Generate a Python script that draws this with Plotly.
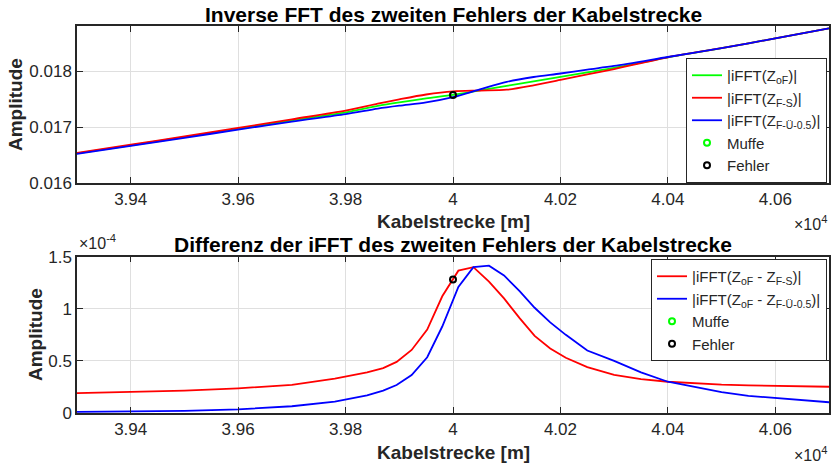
import plotly.graph_objects as go

# ---------------- data ----------------
# Top plot: |iFFT| amplitudes along the cable (m)
x_top = [39300, 39400, 39500, 39600, 39700, 39800, 39860, 39900, 39950, 40000,
         40050, 40100, 40150, 40200, 40250, 40300, 40400, 40500, 40600, 40700]
amp_oF = [0.01653, 0.016675, 0.01682, 0.01697, 0.01712, 0.017264, 0.01738, 0.017443, 0.017514, 0.017577,
          0.017657, 0.017738, 0.017818, 0.017898, 0.01798, 0.018059, 0.01825, 0.018414, 0.018589, 0.018768]
amp_FS = [0.01654, 0.016685, 0.016832, 0.016985, 0.01714, 0.017294, 0.01742, 0.017497, 0.017584, 0.01764,
          0.017655, 0.01767, 0.017748, 0.017844, 0.017944, 0.01804, 0.01825, 0.018414, 0.018589, 0.018768]
amp_FU = [0.01652, 0.016665, 0.016808, 0.016955, 0.0171, 0.017234, 0.017332, 0.017384, 0.017442, 0.017536,
          0.017675, 0.01781, 0.017897, 0.01796, 0.01803, 0.018095, 0.018255, 0.018414, 0.018589, 0.018768]

# Bottom plot: |iFFT| of differences (values in units of 1e-4)
x_diff = [39300, 39400, 39500, 39600, 39700, 39780, 39840, 39870, 39895, 39923, 39952, 39980,
          40010, 40038, 40067, 40095, 40124, 40152, 40181, 40210, 40250, 40300, 40350, 40400,
          40450, 40500, 40550, 40600, 40650, 40700]
diff_FS_e4 = [0.19, 0.20, 0.215, 0.237, 0.27, 0.33, 0.39, 0.43, 0.49, 0.605, 0.80, 1.12,
              1.366, 1.40, 1.26, 1.10, 0.91, 0.74, 0.62, 0.53, 0.44, 0.365, 0.325, 0.30,
              0.283, 0.272, 0.265, 0.26, 0.255, 0.252]
diff_FU_e4 = [0.01, 0.012, 0.02, 0.035, 0.065, 0.11, 0.17, 0.215, 0.269, 0.365, 0.535, 0.83,
              1.21, 1.40, 1.414, 1.32, 1.17, 1.01, 0.87, 0.75, 0.60, 0.50, 0.39, 0.30,
              0.25, 0.20, 0.165, 0.142, 0.12, 0.103]

fehler_x = [40000]
fehler_top = [0.017577]
fehler_bot_e4 = [1.28]

x_ticks = [39400, 39600, 39800, 40000, 40200, 40400, 40600]
x_ticktext = ["3.94", "3.96", "3.98", "4", "4.02", "4.04", "4.06"]
y_top_ticks = [0.016, 0.017, 0.018]
y_top_text = ["0.016", "0.017", "0.018"]
y_bot_ticks = [0, 0.5e-4, 1e-4, 1.5e-4]
y_bot_text = ["0", "0.5", "1", "1.5"]

diff_FS = [v * 1e-4 for v in diff_FS_e4]
diff_FU = [v * 1e-4 for v in diff_FU_e4]
fehler_bot = [v * 1e-4 for v in fehler_bot_e4]

# ---------------- figure ----------------
W, H = 832, 467
def fx(px):
    return px / W
def fy(py):
    return 1 - py / H

FONT = "Liberation Sans, Arial, sans-serif"
AX = "#262626"
GRID = "#dfdfdf"

fig = go.Figure()
lw = 1.8
sp = dict(shape="spline", smoothing=0.8)
fig.add_trace(go.Scatter(x=x_top, y=amp_oF, mode="lines", line=dict(color="#00ff00", width=lw, **sp),
                         name="|iFFT(Z<sub>oF</sub>)|", xaxis="x", yaxis="y", legend="legend"))
fig.add_trace(go.Scatter(x=x_top, y=amp_FS, mode="lines", line=dict(color="#ff0000", width=lw, **sp),
                         name="|iFFT(Z<sub>F-S</sub>)|", xaxis="x", yaxis="y", legend="legend"))
fig.add_trace(go.Scatter(x=x_top, y=amp_FU, mode="lines", line=dict(color="#0000ff", width=lw, **sp),
                         name="|iFFT(Z<sub>F-Ü-0.5</sub>)|", xaxis="x", yaxis="y", legend="legend"))
fig.add_trace(go.Scatter(x=[None], y=[None], mode="markers",
                         marker=dict(symbol="circle-open", color="#00ff00", size=6, line=dict(width=2)),
                         name="Muffe", xaxis="x", yaxis="y", legend="legend"))
fig.add_trace(go.Scatter(x=fehler_x, y=fehler_top, mode="markers",
                         marker=dict(symbol="circle-open", color="black", size=6, line=dict(width=2)),
                         name="Fehler", xaxis="x", yaxis="y", legend="legend"))

fig.add_trace(go.Scatter(x=x_diff, y=diff_FS, mode="lines", line=dict(color="#ff0000", width=lw),
                         name="|iFFT(Z<sub>oF</sub> - Z<sub>F-S</sub>)|", xaxis="x2", yaxis="y2", legend="legend2"))
fig.add_trace(go.Scatter(x=x_diff, y=diff_FU, mode="lines", line=dict(color="#0000ff", width=lw),
                         name="|iFFT(Z<sub>oF</sub> - Z<sub>F-Ü-0.5</sub>)|", xaxis="x2", yaxis="y2", legend="legend2"))
fig.add_trace(go.Scatter(x=[None], y=[None], mode="markers",
                         marker=dict(symbol="circle-open", color="#00ff00", size=6, line=dict(width=2)),
                         name="Muffe", xaxis="x2", yaxis="y2", legend="legend2"))
fig.add_trace(go.Scatter(x=fehler_x, y=fehler_bot, mode="markers",
                         marker=dict(symbol="circle-open", color="black", size=6, line=dict(width=2)),
                         name="Fehler", xaxis="x2", yaxis="y2", legend="legend2"))

xdom = [fx(77), fx(829)]
top_dom = [fy(183), fy(26)]
bot_dom = [fy(413), fy(256.7)]

axis_common = dict(showline=True, linecolor=AX, linewidth=1.5, mirror="ticks", ticks="inside",
                   ticklen=6, tickwidth=1.2, tickcolor=AX, showgrid=True, gridcolor=GRID, gridwidth=1,
                   zeroline=False, automargin=False, tickfont=dict(family=FONT, size=17, color=AX))

fig.update_layout(
    width=W, height=H, margin=dict(l=0, r=0, t=0, b=0, pad=0, autoexpand=False),
    plot_bgcolor="white", paper_bgcolor="white",
    font=dict(family=FONT, color=AX),
    xaxis=dict(domain=xdom, anchor="y", range=[39300, 40700], tickvals=x_ticks, ticktext=x_ticktext, **axis_common),
    yaxis=dict(domain=top_dom, anchor="x", range=[0.016, 0.01881], tickvals=y_top_ticks, ticktext=y_top_text, **axis_common),
    xaxis2=dict(domain=xdom, anchor="y2", range=[39300, 40700], tickvals=x_ticks, ticktext=x_ticktext, **axis_common),
    yaxis2=dict(domain=bot_dom, anchor="x2", range=[0, 1.5e-4], tickvals=y_bot_ticks, ticktext=y_bot_text, **axis_common),
    legend=dict(x=fx(827), xanchor="right", y=fy(58), yanchor="top", bgcolor="white",
                bordercolor=AX, borderwidth=1, font=dict(family=FONT, size=15, color=AX),
                itemwidth=30, tracegroupgap=0),
    legend2=dict(x=fx(827), xanchor="right", y=fy(259), yanchor="top", bgcolor="white",
                 bordercolor=AX, borderwidth=1, font=dict(family=FONT, size=15, color=AX),
                 itemwidth=30, tracegroupgap=0),
    showlegend=True,
)

ann = []
def A(text, x, y, size, bold=False, color=AX, xanchor="center", yanchor="middle", angle=0):
    t = f"<b>{text}</b>" if bold else text
    ann.append(dict(text=t, x=fx(x), y=fy(y), xref="paper", yref="paper", showarrow=False,
                    xanchor=xanchor, yanchor=yanchor, textangle=angle,
                    font=dict(family=FONT, size=size, color=color)))

A("Inverse FFT des zweiten Fehlers der Kabelstrecke", 453, 14, 21, bold=True, color="black")
A("Differenz der iFFT des zweiten Fehlers der Kabelstrecke", 453, 245, 21, bold=True, color="black")
A("Kabelstrecke [m]", 453, 221, 19, bold=True)
A("Kabelstrecke [m]", 453, 452, 19, bold=True)
A("Amplitude", 15, 105, 19, bold=True, angle=-90)
A("Amplitude", 35, 335, 19, bold=True, angle=-90)
A("×10<sup>4</sup>", 829, 235, 16, xanchor="right", yanchor="bottom")
A("×10<sup>4</sup>", 829, 466, 16, xanchor="right", yanchor="bottom")
A("×10<sup>-4</sup>", 77, 254, 16, xanchor="left", yanchor="bottom")
fig.update_layout(annotations=ann)

# remove the default 8px page margin so the figure fills the window exactly
fig.write_html("out.html", config={"displayModeBar": False},
               post_script="document.body.style.margin='0';")
